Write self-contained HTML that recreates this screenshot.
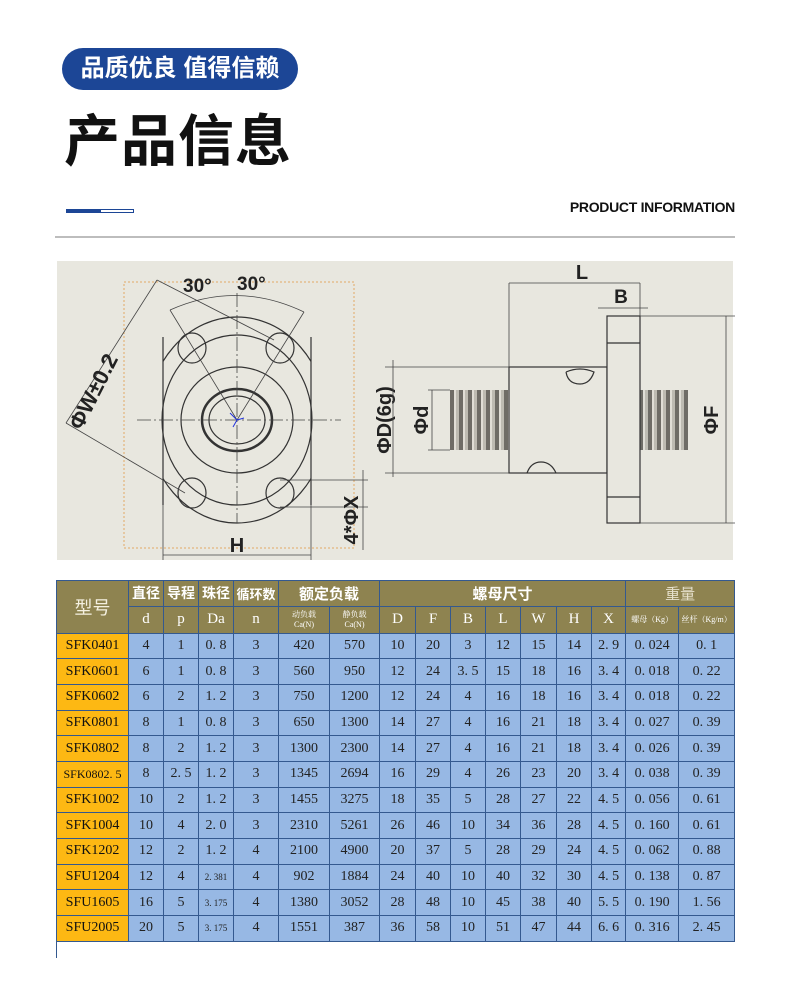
<!DOCTYPE html>
<html><head><meta charset="utf-8"><style>
*{margin:0;padding:0;box-sizing:border-box}
body{width:790px;height:981px;background:#fff;position:relative;overflow:hidden;font-family:"Liberation Sans","Noto Sans CJK SC",sans-serif}
.pill{position:absolute;left:62px;top:48px;width:236px;height:42px;border-radius:21px;background:#1c4696;color:#fff;font-size:24px;font-weight:bold;line-height:42px;text-align:center;letter-spacing:0px}
.title{position:absolute;left:64px;top:106px;font-size:56px;font-weight:bold;color:#111;line-height:72px;letter-spacing:1px}
.bar1{position:absolute;left:66px;top:209px;width:34px;height:4px;background:#1c4696}
.bar2{position:absolute;left:100px;top:209px;width:34px;height:4px;border:1px solid #1c4696;background:#fff}
.pi{position:absolute;right:55px;top:199px;font-size:14px;font-weight:bold;color:#111;letter-spacing:-0.3px}
.hr{position:absolute;left:55px;top:236px;width:680px;height:2px;background:#bdbdbd}
table{position:absolute;left:56px;top:580px;width:678px;border-collapse:collapse;table-layout:fixed;font-family:"Liberation Serif","Noto Serif CJK SC",serif}
td{border:1px solid #34598f;text-align:center;font-size:14px;color:#222;height:25.67px;padding:0;white-space:nowrap;overflow:hidden}
tr.h td{background:#8e8350;color:#fff;font-family:"Liberation Sans","Noto Sans CJK SC",sans-serif;font-size:14px;font-weight:bold}
tr.h2 td{background:#8e8350;color:#fff;font-size:15px;height:27px}
td.m{background:#fdb813;color:#111;font-size:14px}
tr.d td{background:#97b8e4}
tr.d td.m{background:#fdb813}
.s{font-size:8px;line-height:10px}
</style></head><body>
<div class="pill">品质优良 值得信赖</div>
<div class="title">产品信息</div>
<div class="bar1"></div><div class="bar2"></div>
<div class="pi">PRODUCT INFORMATION</div>
<div class="hr"></div>

<svg style="position:absolute;left:0;top:0" width="790" height="981" xmlns="http://www.w3.org/2000/svg">
<defs>
<pattern id="th" width="9" height="60" patternUnits="userSpaceOnUse">
<rect width="9" height="60" fill="#bdbbb2"/><rect x="0" width="4" height="60" fill="#6e6c66"/><rect x="4" width="2" height="60" fill="#e0ded6"/>
</pattern>
<clipPath id="fc"><rect x="163" y="300" width="148" height="240"/></clipPath>
</defs>
<rect x="57" y="261" width="676" height="299" fill="#e8e7df"/>
<rect x="124" y="282" width="230" height="266" fill="none" stroke="#e2a866" stroke-width="1" stroke-dasharray="2,2"/>
<g fill="none" stroke="#333" stroke-width="1.2">
<ellipse cx="237" cy="420" rx="90" ry="103" clip-path="url(#fc)"/>
<line x1="163" y1="337" x2="163" y2="505"/><line x1="311" y1="337" x2="311" y2="505"/>
<ellipse cx="237" cy="420" rx="75" ry="85"/>
<ellipse cx="237" cy="420" rx="56" ry="53"/>
<ellipse cx="237" cy="420" rx="35" ry="31" stroke-width="2.5"/>
<ellipse cx="237" cy="420" rx="28" ry="24"/>
<ellipse cx="192" cy="348" rx="14" ry="15"/><ellipse cx="280" cy="348" rx="14" ry="15"/>
<ellipse cx="192" cy="493" rx="14" ry="15"/><ellipse cx="280" cy="493" rx="14" ry="15"/>
</g>
<g fill="none" stroke="#444" stroke-width="0.8">
<line x1="137" y1="420" x2="341" y2="420" stroke-dasharray="14,3,2,3"/>
<line x1="237" y1="293" x2="237" y2="523" stroke-dasharray="14,3,2,3"/>
<line x1="237" y1="420" x2="170" y2="310"/><line x1="237" y1="420" x2="304" y2="312"/>
<path d="M170 310 Q237 280 304 312"/>
<line x1="157" y1="280" x2="66" y2="423"/>
<line x1="157" y1="280" x2="274" y2="340"/>
<line x1="66" y1="423" x2="185" y2="493"/>
<line x1="163" y1="505" x2="163" y2="560"/><line x1="311" y1="505" x2="311" y2="560"/>
<line x1="163" y1="555" x2="311" y2="555"/>
<line x1="280" y1="480" x2="368" y2="480"/><line x1="280" y1="507" x2="368" y2="507"/>
<line x1="363" y1="470" x2="363" y2="550"/>
</g>
<path d="M230 413 L237 420 L233 427 M237 420 L244 418" stroke="#2233dd" stroke-width="1" fill="none"/>
<g font-family="Liberation Sans,sans-serif" font-weight="bold" fill="#222">
<text x="183" y="292" font-size="19">30°</text><text x="237" y="290" font-size="19">30°</text>
<text x="237" y="552" font-size="20" text-anchor="middle">H</text>
<text transform="translate(100,395) rotate(-63)" font-size="22" text-anchor="middle">ΦW±0.2</text>
<text transform="translate(358,520) rotate(-90)" font-size="20" text-anchor="middle">4*ΦX</text>
<text x="582" y="279" font-size="20" text-anchor="middle">L</text>
<text x="621" y="303" font-size="19" text-anchor="middle">B</text>
<text transform="translate(391,420) rotate(-90)" font-size="20" text-anchor="middle">ΦD(6g)</text>
<text transform="translate(428,420) rotate(-90)" font-size="20" text-anchor="middle">Φd</text>
<text transform="translate(718,420) rotate(-90)" font-size="20" text-anchor="middle">ΦF</text>
</g>
<rect x="450" y="390" width="59" height="60" fill="url(#th)"/>
<rect x="640" y="390" width="48" height="60" fill="url(#th)"/>
<g fill="none" stroke="#333" stroke-width="1.2">
<rect x="509" y="367" width="98" height="106" fill="#e8e7df"/>
<rect x="607" y="316" width="33" height="207" fill="#e8e7df"/>
<line x1="607" y1="343" x2="640" y2="343"/><line x1="607" y1="497" x2="640" y2="497"/>
<path d="M566 372 Q580 366 594 372 Q590 384 580 384 Q568 384 566 372"/>
<path d="M527 473 Q531 462 541 462 Q551 462 556 473"/>
</g>
<g fill="none" stroke="#444" stroke-width="0.8">
<line x1="509" y1="283" x2="509" y2="367"/><line x1="640" y1="283" x2="640" y2="316"/>
<line x1="509" y1="283" x2="640" y2="283"/>
<line x1="598" y1="308" x2="648" y2="308"/>
<line x1="385" y1="367" x2="509" y2="367"/><line x1="385" y1="473" x2="509" y2="473"/>
<line x1="393" y1="360" x2="393" y2="477"/>
<line x1="428" y1="390" x2="450" y2="390"/><line x1="428" y1="450" x2="450" y2="450"/>
<line x1="432" y1="390" x2="432" y2="450"/>
<line x1="640" y1="316" x2="735" y2="316"/><line x1="640" y1="523" x2="735" y2="523"/>
<line x1="726" y1="316" x2="726" y2="523"/>
</g>
<line x1="56.5" y1="940" x2="56.5" y2="958" stroke="#34598f"/>
</svg>

<table>
<colgroup><col style="width:72px"><col style="width:35px"><col style="width:35px"><col style="width:35px"><col style="width:45px"><col style="width:51px"><col style="width:50px"><col style="width:36px"><col style="width:35px"><col style="width:35px"><col style="width:35px"><col style="width:36px"><col style="width:35px"><col style="width:34px"><col style="width:53px"><col style="width:56px"></colgroup>
<tr class="h"><td rowspan="2" style="font-size:18px;font-weight:normal;color:#f4f0e0">型号</td><td>直径</td><td>导程</td><td>珠径</td><td style="font-size:13px">循环数</td><td colspan="2" style="font-size:15px">额定负载</td><td colspan="7" style="font-size:15px">螺母尺寸</td><td colspan="2" style="font-size:15px;font-weight:normal;color:#e6e0cc">重量</td></tr>
<tr class="h2"><td>d</td><td>p</td><td>Da</td><td>n</td><td class="s"><div class="s">动负载<br>Ca(N)</div></td><td><div class="s">静负载<br>Ca(N)</div></td><td>D</td><td>F</td><td>B</td><td>L</td><td>W</td><td>H</td><td>X</td><td style="font-size:8px">螺母（Kg）</td><td style="font-size:8px">丝杆（Kg/m）</td></tr>
<tr class="d"><td class="m">SFK0401</td><td>4</td><td>1</td><td>0. 8</td><td>3</td><td>420</td><td>570</td><td>10</td><td>20</td><td>3</td><td>12</td><td>15</td><td>14</td><td>2. 9</td><td>0. 024</td><td>0. 1</td></tr>
<tr class="d"><td class="m">SFK0601</td><td>6</td><td>1</td><td>0. 8</td><td>3</td><td>560</td><td>950</td><td>12</td><td>24</td><td>3. 5</td><td>15</td><td>18</td><td>16</td><td>3. 4</td><td>0. 018</td><td>0. 22</td></tr>
<tr class="d"><td class="m">SFK0602</td><td>6</td><td>2</td><td>1. 2</td><td>3</td><td>750</td><td>1200</td><td>12</td><td>24</td><td>4</td><td>16</td><td>18</td><td>16</td><td>3. 4</td><td>0. 018</td><td>0. 22</td></tr>
<tr class="d"><td class="m">SFK0801</td><td>8</td><td>1</td><td>0. 8</td><td>3</td><td>650</td><td>1300</td><td>14</td><td>27</td><td>4</td><td>16</td><td>21</td><td>18</td><td>3. 4</td><td>0. 027</td><td>0. 39</td></tr>
<tr class="d"><td class="m">SFK0802</td><td>8</td><td>2</td><td>1. 2</td><td>3</td><td>1300</td><td>2300</td><td>14</td><td>27</td><td>4</td><td>16</td><td>21</td><td>18</td><td>3. 4</td><td>0. 026</td><td>0. 39</td></tr>
<tr class="d"><td class="m" style="font-size:12px">SFK0802. 5</td><td>8</td><td>2. 5</td><td>1. 2</td><td>3</td><td>1345</td><td>2694</td><td>16</td><td>29</td><td>4</td><td>26</td><td>23</td><td>20</td><td>3. 4</td><td>0. 038</td><td>0. 39</td></tr>
<tr class="d"><td class="m">SFK1002</td><td>10</td><td>2</td><td>1. 2</td><td>3</td><td>1455</td><td>3275</td><td>18</td><td>35</td><td>5</td><td>28</td><td>27</td><td>22</td><td>4. 5</td><td>0. 056</td><td>0. 61</td></tr>
<tr class="d"><td class="m">SFK1004</td><td>10</td><td>4</td><td>2. 0</td><td>3</td><td>2310</td><td>5261</td><td>26</td><td>46</td><td>10</td><td>34</td><td>36</td><td>28</td><td>4. 5</td><td>0. 160</td><td>0. 61</td></tr>
<tr class="d"><td class="m">SFK1202</td><td>12</td><td>2</td><td>1. 2</td><td>4</td><td>2100</td><td>4900</td><td>20</td><td>37</td><td>5</td><td>28</td><td>29</td><td>24</td><td>4. 5</td><td>0. 062</td><td>0. 88</td></tr>
<tr class="d"><td class="m">SFU1204</td><td>12</td><td>4</td><td style="font-size:9px">2. 381</td><td>4</td><td>902</td><td>1884</td><td>24</td><td>40</td><td>10</td><td>40</td><td>32</td><td>30</td><td>4. 5</td><td>0. 138</td><td>0. 87</td></tr>
<tr class="d"><td class="m">SFU1605</td><td>16</td><td>5</td><td style="font-size:9px">3. 175</td><td>4</td><td>1380</td><td>3052</td><td>28</td><td>48</td><td>10</td><td>45</td><td>38</td><td>40</td><td>5. 5</td><td>0. 190</td><td>1. 56</td></tr>
<tr class="d"><td class="m">SFU2005</td><td>20</td><td>5</td><td style="font-size:9px">3. 175</td><td>4</td><td>1551</td><td>387</td><td>36</td><td>58</td><td>10</td><td>51</td><td>47</td><td>44</td><td>6. 6</td><td>0. 316</td><td>2. 45</td></tr>
</table>
</body></html>
